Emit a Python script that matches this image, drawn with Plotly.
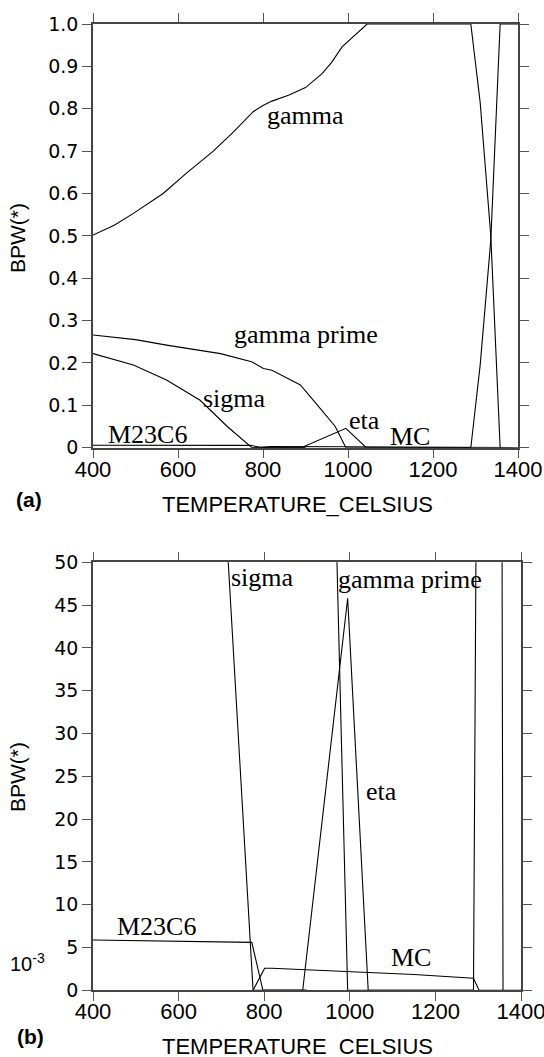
import plotly.graph_objects as go

# ---------------- data (temperature in Celsius, BPW fraction) ----------------
gamma_T = [400, 450, 495, 565, 620, 683, 730, 777, 801, 821, 860, 900, 939, 962, 986, 995, 1017, 1045, 1289, 1311, 1336, 1358]
gamma_v = [0.502, 0.525, 0.553, 0.600, 0.648, 0.700, 0.745, 0.793, 0.808, 0.818, 0.832, 0.850, 0.883, 0.910, 0.946, 0.954, 0.973, 1.000, 1.000, 0.815, 0.500, 0.000]

liquid_T = [1289, 1311, 1336, 1358, 1400]
liquid_v = [0.000, 0.195, 0.490, 1.000, 1.000]

gprime_T = [400, 500, 573, 700, 773, 801, 821, 888, 931, 970, 995, 1289]
gprime_v = [0.266, 0.255, 0.242, 0.222, 0.203, 0.187, 0.183, 0.148, 0.097, 0.050, 0.000, 0.000]

sigma_T = [400, 495, 573, 652, 716, 774, 900]
sigma_v = [0.222, 0.195, 0.160, 0.112, 0.050, 0.000, 0.000]

eta_T = [800, 890, 995, 1043, 1289]
eta_v = [0.000, 0.000, 0.0458, 0.000, 0.000]

m23c6_T = [400, 771, 797, 900]
m23c6_v = [0.00588, 0.00560, 0.000, 0.000]

mc_T = [774, 801, 818, 1000, 1150, 1289, 1302, 1400]
mc_v = [0.000, 0.00257, 0.00257, 0.00220, 0.00185, 0.00140, 0.000, 0.000]

x_ticks = [400, 600, 800, 1000, 1200, 1400]
ya_ticks = [0, 0.1, 0.2, 0.3, 0.4, 0.5, 0.6, 0.7, 0.8, 0.9, 1.0]
ya_text = ["0", "0.1", "0.2", "0.3", "0.4", "0.5", "0.6", "0.7", "0.8", "0.9", "1.0"]
yb_ticks = [0, 0.005, 0.010, 0.015, 0.020, 0.025, 0.030, 0.035, 0.040, 0.045, 0.050]
yb_text = ["0", "5", "10", "15", "20", "25", "30", "35", "40", "45", "50"]

series = [
    (gamma_T, gamma_v), (liquid_T, liquid_v), (gprime_T, gprime_v),
    (sigma_T, sigma_v), (eta_T, eta_v), (m23c6_T, m23c6_v), (mc_T, mc_v),
]

# panel label positions (data coords)
labels_a = [("gamma", 900, 0.785), ("gamma prime", 901, 0.268), ("sigma", 734, 0.117),
            ("M23C6", 529, 0.031), ("eta", 1038, 0.064), ("MC", 1146, 0.026)]
labels_b = [("sigma", 797, 0.0482), ("gamma prime", 1141, 0.0480), ("eta", 1073, 0.0232),
            ("MC", 1142, 0.0038), ("M23C6", 548, 0.0075)]

W, H = 544, 1057
fig = go.Figure()

for (xs, ys) in series:
    fig.add_trace(go.Scatter(x=xs, y=ys, mode="lines", xaxis="x", yaxis="y",
                             line=dict(color="black", width=1.1), showlegend=False, hoverinfo="skip"))
    fig.add_trace(go.Scatter(x=xs, y=ys, mode="lines", xaxis="x2", yaxis="y2",
                             line=dict(color="black", width=1.1), showlegend=False, hoverinfo="skip"))

serif = dict(family="Liberation Serif, Times New Roman, serif", size=26, color="black")
annos = []
for t, x, y in labels_a:
    annos.append(dict(text=t, x=x, y=y, xref="x", yref="y", showarrow=False, font=serif,
                      xanchor="center", yanchor="middle"))
for t, x, y in labels_b:
    annos.append(dict(text=t, x=x, y=y, xref="x2", yref="y2", showarrow=False, font=serif,
                      xanchor="center", yanchor="middle"))

sans = "Liberation Sans, Arial, sans-serif"
def px_y(py):
    return 1 - py / H
def px_x(px):
    return px / W

def paper_text(text, px, py, size, angle=0):
    return dict(text=text, x=px_x(px), y=px_y(py), xref="paper", yref="paper",
                xanchor="center", yanchor="middle", textangle=angle, showarrow=False,
                font=dict(family=sans, size=size, color="black"))

annos += [
    paper_text("TEMPERATURE_CELSIUS", 297, 505, 22),
    paper_text("TEMPERATURE_CELSIUS", 297, 1046, 22),
    paper_text("BPW(*)", 17, 238, 21, -90),
    paper_text("BPW(*)", 17, 777, 21, -90),
    paper_text("<b>(a)</b>", 29, 499, 21),
    paper_text("<b>(b)</b>", 30, 1036, 21),
    paper_text("10<sup>-3</sup>", 27, 962, 20),
]

axis_common = dict(showline=True, linecolor="#444", linewidth=1.5, mirror="ticks",
                   ticks="outside", ticklen=9, tickwidth=1.3, tickcolor="#555",
                   showgrid=False, zeroline=False, fixedrange=True, automargin=False,
                   ticklabeloverflow="allow")
xfont = dict(family=sans, size=22, color="black")
yfont = dict(family="DejaVu Sans, Liberation Sans, sans-serif", size=19, color="black")

fig.update_layout(
    width=W, height=H, margin=dict(l=0, r=0, t=0, b=0, autoexpand=False),
    paper_bgcolor="white", plot_bgcolor="white",
    xaxis=dict(domain=[93 / W, 518 / W], range=[400, 1400], tickvals=x_ticks,
               tickfont=xfont, anchor="y", ticklabelstandoff=-8, **axis_common),
    yaxis=dict(domain=[px_y(447.7), px_y(24)], range=[0, 1], tickvals=ya_ticks, ticktext=ya_text,
               tickfont=yfont, anchor="x", **axis_common),
    xaxis2=dict(domain=[93 / W, 521 / W], range=[400, 1400], tickvals=x_ticks,
                tickfont=xfont, anchor="y2", ticklabelstandoff=-8, **axis_common),
    yaxis2=dict(domain=[px_y(990.3), px_y(562.3)], range=[0, 0.05], tickvals=yb_ticks, ticktext=yb_text,
                tickfont=yfont, anchor="x2", **axis_common),
    annotations=annos,
)

fig.write_html("out.html", config={"displayModeBar": False},
               post_script="document.body.style.margin='0px';document.body.style.overflow='hidden';")
